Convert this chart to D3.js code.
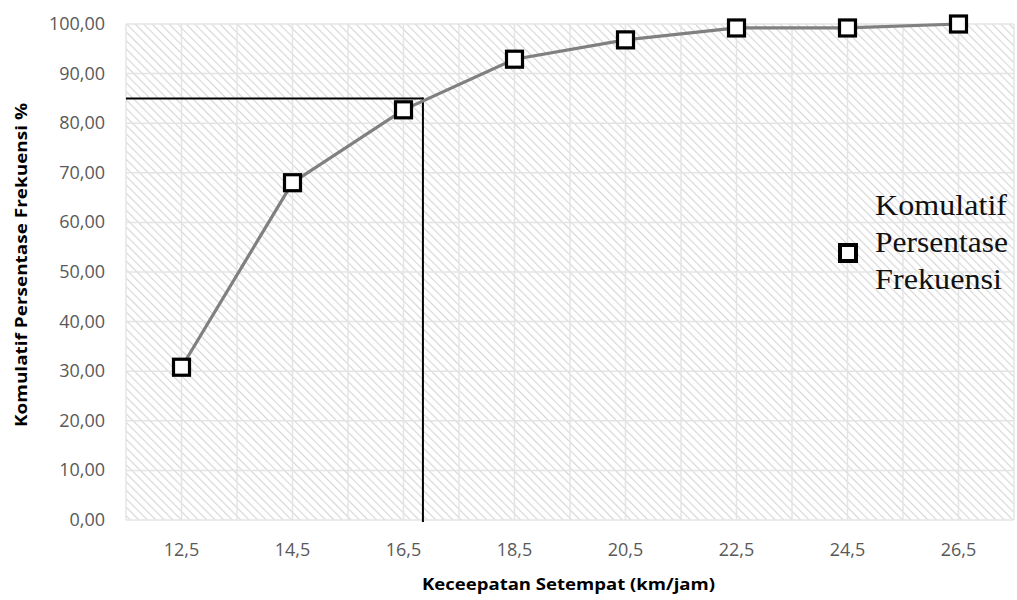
<!DOCTYPE html>
<html>
<head>
<meta charset="utf-8">
<script src="https://d3js.org/d3.v7.min.js"></script>
<title>komulatif persentase frekuensi</title>
<style>
html, body {
	margin: 0;
	padding: 0;
	background: white;
}
svg {
	display: block;
}
.tick-label {
	font-family: 'Open Sans', 'Noto Sans', sans-serif;
	font-size: 18px;
	fill: #595959;
}
.axis-title {
	font-family: 'Open Sans', 'Noto Sans', sans-serif;
	font-weight: 700;
	font-size: 16px;
	fill: #000;
}
.legend-text {
	font-family: 'Liberation Serif', 'Times New Roman', serif;
	font-size: 29px;
	fill: #111;
}
</style>
</head>
<body>
<svg></svg>
<script>
// data
var speeds = [12.5, 14.5, 16.5, 18.5, 20.5, 22.5, 24.5, 26.5];
var cumPct = [30.8, 68.0, 82.7, 92.9, 96.8, 99.2, 99.2, 100.0];
var yTicks = [0, 10, 20, 30, 40, 50, 60, 70, 80, 90, 100];
var xGrid = [11.5, 12.5, 13.5, 14.5, 15.5, 16.5, 17.5, 18.5, 19.5, 20.5, 21.5, 22.5, 23.5, 24.5, 25.5, 26.5, 27.5];
var refPct = 85;
var refSpeed = 16.85;
var legendLines = ["Komulatif", "Persentase", "Frekuensi"];

var width = 1017;
var height = 600;
var plotL = 126, plotR = 1014, plotT = 24, plotB = 520;

var svg = d3.select("svg")
	.attr("width", width)
	.attr("height", height);

var x = d3.scaleLinear().domain([11.5, 27.5]).range([plotL, plotR]);
var y = d3.scaleLinear().domain([0, 100]).range([plotB, plotT]);

// hatch pattern
var pat = svg.append("defs").append("pattern")
	.attr("id", "hatch")
	.attr("patternUnits", "userSpaceOnUse")
	.attr("width", 6)
	.attr("height", 6)
	.attr("patternTransform", "rotate(-45)");
pat.append("rect").attr("width", 6).attr("height", 6).attr("fill", "white");
pat.append("line")
	.attr("x1", 0).attr("y1", 0).attr("x2", 0).attr("y2", 6)
	.attr("stroke", "#d6d6d6")
	.attr("stroke-width", 2.2);

svg.append("rect")
	.attr("x", plotL).attr("y", plotT)
	.attr("width", plotR - plotL).attr("height", plotB - plotT)
	.attr("fill", "url(#hatch)");

// grid
svg.append("g").selectAll("line")
	.data(yTicks)
	.enter().append("line")
	.attr("x1", plotL).attr("x2", plotR)
	.attr("y1", function(d) { return y(d); })
	.attr("y2", function(d) { return y(d); })
	.attr("stroke", "#e4e4e4")
	.attr("stroke-width", 1.5);

svg.append("g").selectAll("line")
	.data(xGrid)
	.enter().append("line")
	.attr("y1", plotT).attr("y2", plotB)
	.attr("x1", function(d) { return x(d); })
	.attr("x2", function(d) { return x(d); })
	.attr("stroke", "#e4e4e4")
	.attr("stroke-width", 1.5);

// y tick labels
var fmt = d3.format(".2f");
svg.append("g").selectAll("text")
	.data(yTicks)
	.enter().append("text")
	.attr("class", "tick-label")
	.attr("x", 105)
	.attr("y", function(d) { return y(d) + 6; })
	.attr("text-anchor", "end")
	.text(function(d) { return fmt(d).replace(".", ","); });

// x tick labels
svg.append("g").selectAll("text")
	.data(speeds)
	.enter().append("text")
	.attr("class", "tick-label")
	.attr("x", function(d) { return x(d); })
	.attr("y", 556)
	.attr("text-anchor", "middle")
	.text(function(d) { return String(d).replace(".", ","); });

// axis titles
svg.append("text")
	.attr("class", "axis-title")
	.attr("x", 422).attr("y", 590)
	.attr("textLength", 293)
	.attr("lengthAdjust", "spacingAndGlyphs")
	.text("Keceepatan Setempat (km/jam)");

svg.append("text")
	.attr("class", "axis-title")
	.attr("transform", "translate(27,427) rotate(-90)")
	.attr("textLength", 324)
	.attr("lengthAdjust", "spacingAndGlyphs")
	.text("Komulatif Persentase Frekuensi %");

// reference lines
svg.append("line")
	.attr("x1", plotL).attr("x2", x(refSpeed))
	.attr("y1", y(refPct)).attr("y2", y(refPct))
	.attr("stroke", "#000").attr("stroke-width", 2);
svg.append("line")
	.attr("x1", x(refSpeed)).attr("x2", x(refSpeed))
	.attr("y1", y(refPct) - 1).attr("y2", plotB + 2)
	.attr("stroke", "#000").attr("stroke-width", 2);

// series
var pts = speeds.map(function(s, i) { return [s, cumPct[i]]; });
var line = d3.line()
	.x(function(d) { return x(d[0]); })
	.y(function(d) { return y(d[1]); });

svg.append("path")
	.datum(pts)
	.attr("d", line)
	.attr("fill", "none")
	.attr("stroke", "#808080")
	.attr("stroke-width", 3.2);

svg.append("g").selectAll("rect")
	.data(pts)
	.enter().append("rect")
	.attr("x", function(d) { return x(d[0]) - 8; })
	.attr("y", function(d) { return y(d[1]) - 8; })
	.attr("width", 16).attr("height", 16)
	.attr("fill", "white")
	.attr("stroke", "#000")
	.attr("stroke-width", 3.2);

// legend
svg.append("rect")
	.attr("x", 840).attr("y", 245)
	.attr("width", 16).attr("height", 16)
	.attr("fill", "white")
	.attr("stroke", "#000")
	.attr("stroke-width", 4);

var legendW = [132, 133, 127];
svg.append("g").selectAll("text")
	.data(legendLines)
	.enter().append("text")
	.attr("class", "legend-text")
	.attr("x", 875)
	.attr("y", function(d, i) { return 215 + i * 37; })
	.attr("textLength", function(d, i) { return legendW[i]; })
	.attr("lengthAdjust", "spacingAndGlyphs")
	.text(function(d) { return d; });
</script>
</body>
</html>
